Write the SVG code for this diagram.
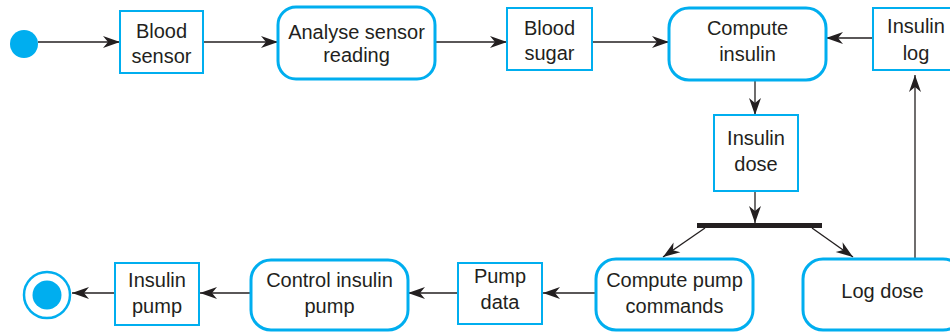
<svg xmlns="http://www.w3.org/2000/svg" width="950" height="332" viewBox="0 0 950 332">
<style>
.obj{fill:#fff;stroke:#00AEEF;stroke-width:2}
.act{fill:#fff;stroke:#00AEEF;stroke-width:3}
.t{font-family:"Liberation Sans",Arial,sans-serif;font-size:20px;fill:#231f20;text-anchor:middle}
.c{fill:none;stroke:#231f20;stroke-width:1.3;marker-end:url(#ah)}
</style>
<defs>
<marker id="ah" markerUnits="userSpaceOnUse" viewBox="-18 -7 19 14" refX="0" refY="0" markerWidth="19" markerHeight="14" orient="auto">
<path d="M0,0 L-17,-6 L-12,0 L-17,6 Z" fill="#231f20"/>
</marker>
</defs>
<g id="connectors">
<line class="c" x1="38" y1="42" x2="120" y2="42"/>
<line class="c" x1="203" y1="42" x2="278" y2="42"/>
<line class="c" x1="435" y1="42" x2="507" y2="42"/>
<line class="c" x1="592" y1="42" x2="669" y2="42"/>
<line class="c" x1="873" y1="38" x2="826" y2="38"/>
<line class="c" x1="755" y1="80" x2="755" y2="115"/>
<line class="c" x1="755" y1="191" x2="755" y2="223"/>
<line class="c" x1="705" y1="228" x2="663" y2="257"/>
<line class="c" x1="812" y1="228" x2="853" y2="257"/>
<line class="c" x1="915" y1="259" x2="915" y2="75"/>
<line class="c" x1="596" y1="293" x2="543" y2="293"/>
<line class="c" x1="458" y1="293" x2="408" y2="293"/>
<line class="c" x1="251" y1="293" x2="200" y2="293"/>
<line class="c" x1="115" y1="293" x2="72" y2="293"/>
</g>
<g id="start"><circle cx="24" cy="44" r="14" fill="#00AEEF"/></g>
<g id="blood-sensor"><rect class="obj" x="120" y="11" width="83" height="62"/><text class="t" x="161.5" y="38">Blood</text><text class="t" x="161.5" y="63">sensor</text></g>
<g id="analyse"><rect class="act" x="278" y="7" width="157" height="72" rx="18"/><text class="t" x="356.5" y="39">Analyse sensor</text><text class="t" x="356.5" y="62">reading</text></g>
<g id="blood-sugar"><rect class="obj" x="507" y="8" width="85" height="62"/><text class="t" x="549.5" y="35">Blood</text><text class="t" x="549.5" y="60">sugar</text></g>
<g id="compute-insulin"><rect class="act" x="669" y="8" width="157" height="72" rx="20"/><text class="t" x="747.5" y="35">Compute</text><text class="t" x="747.5" y="61">insulin</text></g>
<g id="insulin-log"><rect class="obj" x="873" y="8" width="86" height="62"/><text class="t" x="916" y="33">Insulin</text><text class="t" x="916" y="60">log</text></g>
<g id="insulin-dose"><rect class="obj" x="714" y="115" width="84" height="76"/><text class="t" x="756" y="145">Insulin</text><text class="t" x="756" y="171">dose</text></g>
<g id="fork"><rect x="697" y="223" width="125" height="5" fill="#231f20"/></g>
<g id="compute-pump"><rect class="act" x="596" y="259" width="157" height="71" rx="20"/><text class="t" x="674.5" y="287">Compute pump</text><text class="t" x="674.5" y="313">commands</text></g>
<g id="log-dose"><rect class="act" x="803" y="259" width="160" height="71" rx="20"/><text class="t" x="882.5" y="298">Log dose</text></g>
<g id="pump-data"><rect class="obj" x="458" y="263" width="84" height="61"/><text class="t" x="500" y="283">Pump</text><text class="t" x="500" y="309">data</text></g>
<g id="control-pump"><rect class="act" x="251" y="260" width="157" height="70" rx="20"/><text class="t" x="329.5" y="287">Control insulin</text><text class="t" x="329.5" y="313">pump</text></g>
<g id="insulin-pump"><rect class="obj" x="115" y="263" width="84" height="62"/><text class="t" x="157" y="287">Insulin</text><text class="t" x="157" y="313">pump</text></g>
<g id="end"><circle cx="47" cy="295" r="23" fill="#fff" stroke="#00AEEF" stroke-width="2.5"/><circle cx="47" cy="295" r="14.5" fill="#00AEEF"/></g>
</svg>
